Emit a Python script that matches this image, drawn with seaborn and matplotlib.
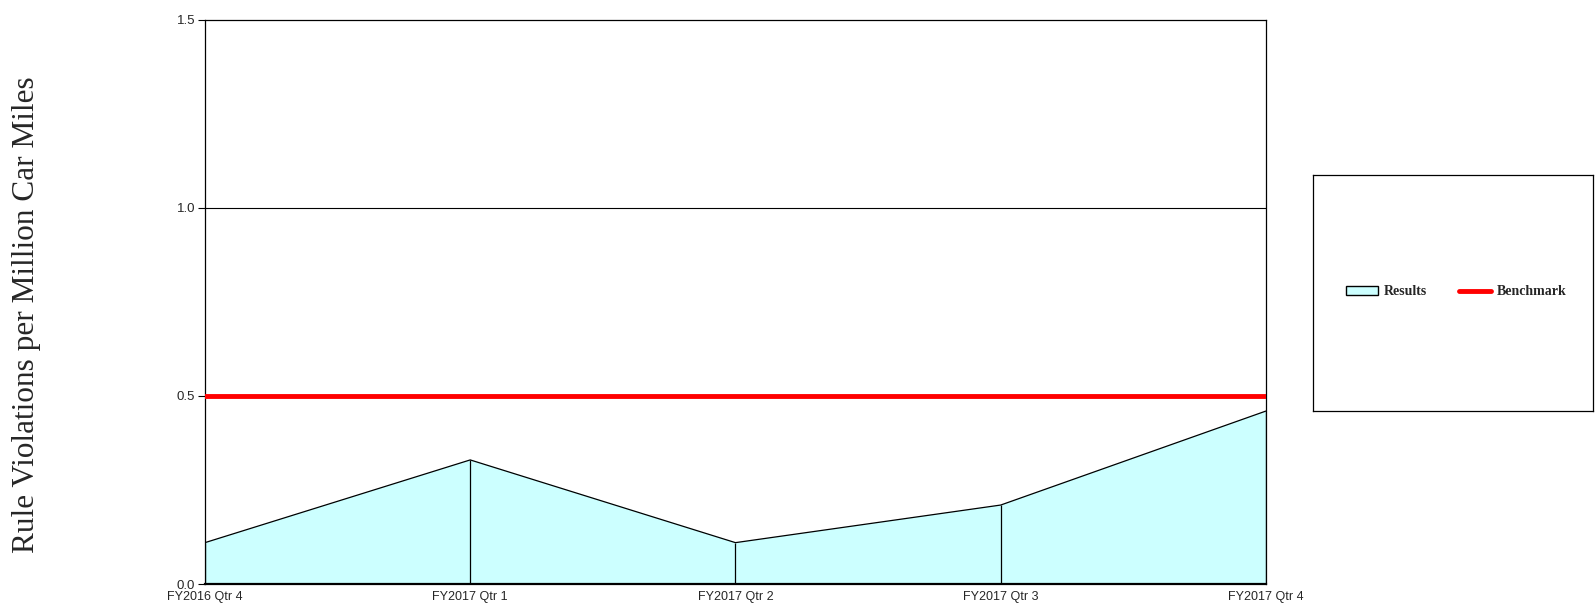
import matplotlib
matplotlib.use("Agg")
import matplotlib.pyplot as plt
from matplotlib.patches import Patch
from matplotlib.lines import Line2D
import seaborn as sns
import pandas as pd

quarters = ["FY2016 Qtr 4", "FY2017 Qtr 1", "FY2017 Qtr 2", "FY2017 Qtr 3", "FY2017 Qtr 4"]
results = [0.11, 0.33, 0.11, 0.21, 0.46]
benchmark = [0.5, 0.5, 0.5, 0.5, 0.5]
y_ticks = [0.0, 0.5, 1.0, 1.5]

df = pd.DataFrame({"quarter": quarters, "pos": range(len(quarters)),
                   "results": results, "benchmark": benchmark})

sns.set_style("white")
fig = plt.figure(figsize=(15.95, 6.13), dpi=100)
ax = fig.add_axes([0.1285, 0.0473, 0.6652, 0.9201])

# horizontal gridline at 1.0 only (others coincide with frame / benchmark)
ax.axhline(1.0, color="black", lw=0.8, zorder=0)

# shaded results area with drop lines at each quarter
ax.fill_between(df["pos"], 0, df["results"], color="#ccffff", zorder=1)
ax.vlines(df["pos"], 0, df["results"], color="black", lw=0.9, zorder=2)
sns.lineplot(data=df, x="pos", y="results", color="black", lw=0.9, ax=ax, zorder=3)

# benchmark line
sns.lineplot(data=df, x="pos", y="benchmark", color="#ff0000", lw=3.5, ax=ax, zorder=4)

ax.set_xlim(0, len(quarters) - 1)
ax.set_ylim(0, 1.5)
ax.set_xticks(df["pos"])
ax.set_xticklabels(quarters, family="Liberation Sans", fontsize=9)
ax.set_yticks(y_ticks)
ax.set_yticklabels([f"{v:.1f}" for v in y_ticks], family="Liberation Sans", fontsize=9.5)
ax.tick_params(axis="y", left=True, length=5, width=0.8, pad=2, color="black")
ax.tick_params(axis="x", bottom=True, length=0, pad=5)
ax.set_xlabel("")
ax.set_ylabel("Rule Violations per Million Car Miles", family="Liberation Serif",
              fontsize=22.5, labelpad=0)
ax.yaxis.set_label_coords(-0.155, 0.477)
for s in ax.spines.values():
    s.set_color("black")
    s.set_linewidth(0.9)
ax.spines["bottom"].set_linewidth(1.6)

# legend in a separate boxed area
lax = fig.add_axes([1313 / 1595, 1 - 411 / 613, 280 / 1595, 236 / 613])
lax.set_xticks([])
lax.set_yticks([])
for s in lax.spines.values():
    s.set_color("black")
    s.set_linewidth(0.9)
handles = [Patch(facecolor="#ccffff", edgecolor="black", linewidth=1.0),
           Line2D([0], [0], color="#ff0000", lw=3.5)]
lax.legend(handles, ["Results", "Benchmark"], loc="center", ncol=2, frameon=False,
           bbox_to_anchor=(0.512, 0.505),
           prop={"family": "Liberation Serif", "weight": "bold", "size": 10},
           handlelength=2.3, handleheight=0.55, columnspacing=2.3, handletextpad=0.45)

fig.savefig("out.png", dpi=100)
